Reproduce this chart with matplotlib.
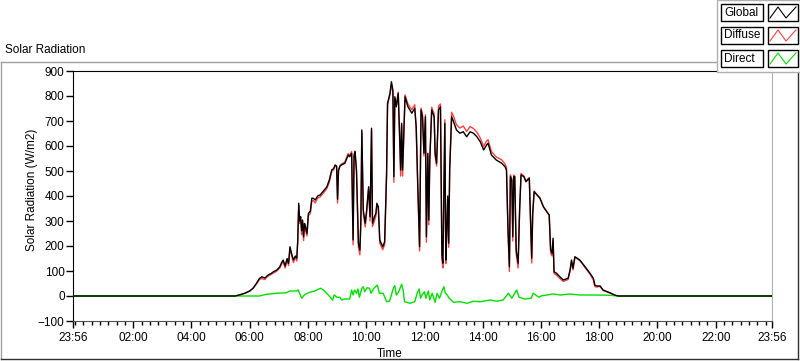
import matplotlib
matplotlib.use("Agg")
import matplotlib.pyplot as plt
from matplotlib.lines import Line2D
from matplotlib.patches import Rectangle
import numpy as np

plt.rcParams['font.family'] = ['Liberation Sans', 'DejaVu Sans']

# minutes from midnight, values in W/m2
g_t = [-4, 330, 340, 350, 360, 367, 374, 380, 385, 391, 398, 404, 409, 416, 422, 426, 429, 433, 437, 440,
       443, 446, 450, 454, 457, 459, 461, 463, 465, 467, 469, 471, 473, 475, 478, 481, 485, 488, 491, 495,
       500, 505, 512, 519, 524, 529, 533, 536, 539, 541, 543, 546, 549, 553, 556, 560, 563, 566, 570, 573,
       575, 577, 580, 584, 587, 589, 591, 594, 598, 601, 605, 608, 611, 613, 617, 620, 622, 625, 628, 631,
       634, 638, 642, 644, 649, 652, 655, 657, 659, 662, 666, 669, 671, 673, 675, 680, 686, 694, 700, 703,
       706, 710, 713, 716, 719, 722, 724, 727, 729, 731, 735, 740, 742, 745, 749, 753, 756, 758, 762, 764,
       766, 768, 770, 772, 776, 780, 786, 793, 800, 807, 814, 821, 828, 835, 842, 848, 851, 858, 868, 879,
       886, 889, 892, 895, 897, 900, 902, 904, 906, 909, 913, 916, 919, 925, 929, 936, 938, 941, 943, 946,
       952, 958, 965, 972, 977, 980, 983, 985, 987, 992, 999, 1006, 1016, 1020, 1023, 1026, 1030, 1040, 1051, 1061,
       1068, 1071, 1075, 1082, 1088, 1102, 1113, 1120, 1436]
global_vals = [0, 0, 5, 11, 20, 31, 51, 70, 77, 72, 84, 90, 97, 104, 117, 135, 144, 120, 150, 130,
               197, 172, 144, 160, 151, 224, 371, 300, 317, 261, 304, 237, 290, 277, 250, 331, 340, 391, 391, 384,
               400, 404, 420, 437, 464, 504, 510, 524, 520, 387, 504, 520, 524, 528, 531, 550, 564, 557, 571, 224,
               560, 577, 504, 211, 184, 300, 664, 344, 291, 344, 437, 317, 671, 291, 317, 330, 371, 357, 224, 210,
               197, 217, 491, 771, 811, 857, 824, 477, 797, 757, 811, 637, 504, 691, 504, 797, 757, 731, 751, 677,
               464, 197, 744, 717, 571, 717, 237, 571, 304, 544, 744, 717, 571, 531, 744, 757, 164, 131, 691, 144,
               264, 400, 211, 504, 717, 697, 664, 651, 657, 637, 657, 651, 637, 617, 584, 604, 611, 564, 544, 531,
               517, 504, 277, 117, 477, 464, 237, 477, 477, 184, 131, 344, 484, 477, 457, 471, 344, 151, 331, 417,
               404, 391, 357, 337, 324, 184, 171, 231, 97, 91, 77, 64, 71, 104, 144, 111, 157, 144, 117, 91,
               71, 44, 40, 40, 24, 13, 3, 0, 0]
diffuse_vals = [0, 0, 5, 11, 20, 31, 48, 66, 70, 66, 80, 86, 92, 100, 112, 128, 138, 112, 145, 122,
                190, 165, 134, 155, 140, 215, 362, 290, 305, 245, 295, 222, 280, 262, 240, 322, 330, 380, 382, 372,
                392, 396, 412, 430, 455, 498, 505, 522, 518, 372, 500, 520, 528, 532, 536, 556, 570, 560, 578, 205,
                565, 580, 495, 195, 165, 290, 655, 330, 276, 335, 430, 300, 662, 278, 300, 320, 366, 350, 212, 198,
                185, 205, 480, 765, 805, 845, 815, 455, 790, 760, 815, 620, 480, 685, 480, 805, 768, 745, 765, 670,
                445, 180, 752, 725, 560, 725, 215, 565, 285, 540, 755, 728, 560, 520, 760, 768, 150, 112, 705, 130,
                248, 390, 195, 510, 735, 718, 685, 672, 680, 658, 678, 670, 655, 632, 598, 620, 625, 578, 556, 545,
                528, 514, 262, 98, 485, 470, 220, 484, 480, 168, 112, 330, 490, 480, 460, 474, 330, 132, 320, 420,
                405, 392, 358, 338, 324, 172, 160, 222, 90, 84, 70, 58, 66, 100, 138, 104, 155, 142, 114, 88,
                64, 38, 36, 38, 22, 12, 3, 0, 0]

d_t = [-4, 330, 380, 395, 416, 435, 443, 457, 460, 467, 474, 484, 494, 506, 512, 522, 531, 534, 540, 546,
       549, 556, 566, 570, 573, 576, 580, 583, 586, 591, 594, 597, 602, 607, 610, 616, 623, 627, 635, 642,
       648, 656, 659, 662, 667, 673, 676, 679, 690, 700, 705, 709, 712, 715, 720, 723, 728, 731, 736, 742,
       746, 751, 757, 760, 763, 767, 771, 780, 793, 808, 821, 835, 855, 869, 882, 893, 900, 910, 915, 927,
       940, 944, 949, 956, 960, 985, 1000, 1020, 1040, 1071, 1100, 1119, 1436]
direct_vals = [0, 0, 0, 7, 11, 13, 20, 20, 24, -9, 7, 15, 20, 31, 24, 4, -16, 4, -5, -5,
               -16, -12, -12, 24, 4, 24, 11, 28, -5, 31, 37, 17, 33, 31, 11, 31, 44, 11, 11, -23,
               -21, 31, 41, 4, 17, 47, 24, -23, -29, -23, 11, 28, -9, 4, 17, -9, 20, -16, 11, -25,
               11, -9, 24, 37, 11, 4, -9, -25, -23, -29, -21, -23, -16, -21, -16, 11, -9, 24, -5, -12,
               -9, 11, 4, -5, 0, 8, 4, 8, 4, 4, 3, 0, 0]

tick_pos = [-4, 120, 240, 360, 480, 600, 720, 840, 960, 1080, 1200, 1320, 1436]
tick_labels = ["23:56", "02:00", "04:00", "06:00", "08:00", "10:00", "12:00",
               "14:00", "16:00", "18:00", "20:00", "22:00", "23:56"]
y_ticks = [-100, 0, 100, 200, 300, 400, 500, 600, 700, 800, 900]

W, H = 800, 361
fig = plt.figure(figsize=(W / 100, H / 100), dpi=100)
fig.patch.set_facecolor('white')

def fx(px):
    return px / W

def fy(py):
    return 1 - py / H

# outer frame
fig.add_artist(Line2D([fx(1), fx(798)], [fy(62), fy(62)], color='#a0a0a0', lw=1))
fig.add_artist(Line2D([fx(1), fx(1)], [fy(62), fy(359)], color='#a0a0a0', lw=1))
fig.add_artist(Line2D([fx(1), fx(798)], [fy(359), fy(359)], color='#303030', lw=1))
fig.add_artist(Line2D([fx(798), fx(798)], [fy(62), fy(359)], color='#303030', lw=1))

fig.text(fx(5), fy(50), "Solar Radiation", fontsize=8.5, va='center', ha='left')

ax = fig.add_axes([fx(73), fy(321), fx(772) - fx(73), fy(71) - fy(321)])
ax.plot(g_t, diffuse_vals, color='#ff4040', lw=1.0, zorder=2)
ax.plot(d_t, direct_vals, color='#00e000', lw=1.0, zorder=3)
ax.plot(g_t, global_vals, color='black', lw=1.0, zorder=4)

ax.set_xlim(-4, 1436)
ax.set_ylim(-100, 900)
ax.set_xticks(tick_pos)
ax.set_xticklabels(tick_labels)
ax.set_yticks(y_ticks)
minor = [m for m in np.arange(0, 1436, 120 / 7) if min(abs(m - p) for p in tick_pos) > 2]
ax.set_xticks(minor, minor=True)
ax.tick_params(axis='x', which='major', length=5, width=1, labelsize=8.5, pad=3)
ax.tick_params(axis='x', which='minor', length=3, width=1)
ax.tick_params(axis='y', which='major', length=5, width=1, labelsize=8.5, pad=1)
for s in ['left', 'top']:
    ax.spines[s].set_color('black')
ax.spines['bottom'].set_color('#505050')
ax.spines['right'].set_color('#b0b0b0')

fig.text(fx(377), fy(354), "Time", fontsize=8.5, ha='left', va='center')
fig.text(fx(32), fy(190), "Solar Radiation (W/m2)", fontsize=8.5, rotation=90, ha='center', va='center')

# legend panel
fig.add_artist(Rectangle((fx(717), fy(72)), fx(800) - fx(717), fy(0) - fy(72),
                         facecolor='white', edgecolor='#b0b0b0', lw=1, zorder=5))
names = ["Global", "Diffuse", "Direct"]
colors = ['black', '#ff4040', '#00e000']
tops = [4, 27, 50]
for name, c, t in zip(names, colors, tops):
    b = t + 17
    fig.add_artist(Rectangle((fx(721), fy(b)), fx(763) - fx(721), fy(t) - fy(b),
                             facecolor='white', edgecolor='black', lw=1, zorder=6))
    fig.text(fx(724), fy((t + b) / 2), name, fontsize=8.5, ha='left', va='center', zorder=7)
    fig.add_artist(Rectangle((fx(768), fy(b)), fx(798) - fx(768), fy(t) - fy(b),
                             facecolor='white', edgecolor='black', lw=1, zorder=6))
    xs = [770, 778, 786, 796]
    ys = [b - 3, t + 3, b - 3, t + 3]
    fig.add_artist(Line2D([fx(x) for x in xs], [fy(y) for y in ys], color=c, lw=0.8, zorder=7))

fig.savefig("out.png", dpi=100)
